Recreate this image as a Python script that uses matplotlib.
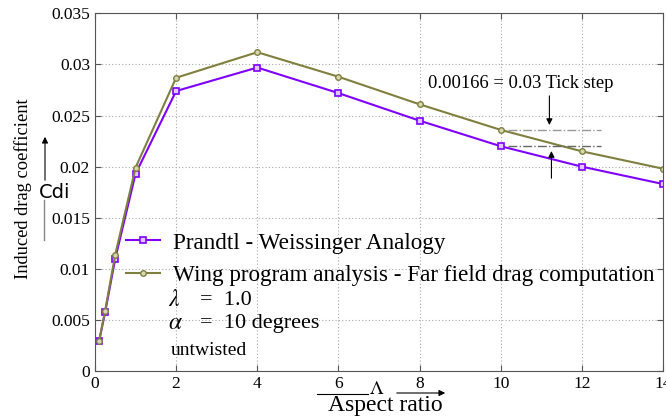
import numpy as np
import matplotlib.pyplot as plt

# Aspect ratio values
aspect = [0.1, 0.25, 0.5, 1.0, 2.0, 4.0, 6.0, 8.0, 10.0, 12.0, 14.0]

# Induced drag coefficient, Prandtl - Weissinger
cdi_pw = [0.0029, 0.00575, 0.0110, 0.0193, 0.0274, 0.0297, 0.0272, 0.0245, 0.0220, 0.0200, 0.0183]
# Induced drag coefficient, wing program (far field)
cdi_wp = [0.0029, 0.0059, 0.0114, 0.0199, 0.0287, 0.0312, 0.0288, 0.0261, 0.0236, 0.0215, 0.0198]

xticks = [0, 2, 4, 6, 8, 10, 12, 14]
yticks = [0, 0.005, 0.01, 0.015, 0.02, 0.025, 0.03, 0.035]
ytick_labels = ["0", "0.005", "0.01", "0.015", "0.02", "0.025", "0.03", "0.035"]

serif = "Liberation Serif"
purple = "#7f00ff"
olive = "#7f7f3f"
plt.rcParams["mathtext.fontset"] = "stix"

fig = plt.figure(figsize=(6.66, 4.17), dpi=100)
ax = fig.add_axes([0.1426, 0.1103, 0.8529, 0.8576])

ax.plot(aspect, cdi_pw, color=purple, lw=1.5, marker="s", ms=4.5,
        mfc="#e0c8ff", mec=purple, mew=1.2, label="Prandtl - Weissinger Analogy")
ax.plot(aspect, cdi_wp, color=olive, lw=1.5, marker="o", ms=4,
        mfc="#d8d8b0", mec=olive, mew=1.0,
        label="Wing program analysis - Far field drag computation")

ax.set_xlim(0, 14)
ax.set_ylim(0, 0.035)
ax.set_xticks(xticks)
ax.set_yticks(yticks)
ax.set_yticklabels(ytick_labels)
ax.tick_params(direction="in", top=True, right=True, length=4, color="#555555",
               labelsize=12.5)
for lab in ax.get_xticklabels() + ax.get_yticklabels():
    lab.set_fontfamily(serif)
ax.grid(True, linestyle=(0, (1, 2)), color="#aaaaaa", lw=0.8)
for s in ax.spines.values():
    s.set_color("#555555")

leg = ax.legend(loc="center left", bbox_to_anchor=(0.055, 0.313), frameon=False,
                prop={"family": serif, "size": 16.7}, handlelength=1.47,
                handletextpad=0.56, labelspacing=0.48, borderaxespad=0,
                borderpad=0)

# parameters text
ax.text(0.128, 0.197, r"$\lambda$", transform=ax.transAxes,
        family=serif, fontsize=17, va="center")
ax.text(0.185, 0.197, "=  1.0", transform=ax.transAxes,
        family=serif, fontsize=16, va="center")
ax.text(0.128, 0.134, r"$\alpha$", transform=ax.transAxes,
        family=serif, fontsize=17, va="center")
ax.text(0.185, 0.134, "=  10 degrees", transform=ax.transAxes,
        family=serif, fontsize=16, va="center")
ax.text(0.133, 0.058, "untwisted", transform=ax.transAxes,
        family=serif, fontsize=14, va="center")

# tick step annotation
ax.text(8.2, 0.0281, "0.00166 = 0.03 Tick step", family=serif, fontsize=13.4,
        va="center")
ax.plot([10.17, 12.47], [cdi_wp[8], cdi_wp[8]], color="#999999", lw=1, ls="-.")
ax.plot([10.17, 12.47], [cdi_pw[8], cdi_pw[8]], color="#666666", lw=1, ls="-.")
ax.annotate("", xy=(11.2, cdi_wp[8] + 0.0002), xytext=(11.2, 0.0272),
            arrowprops=dict(arrowstyle="-|>", color="black", lw=0.8,
                            mutation_scale=9))
ax.annotate("", xy=(11.25, cdi_pw[8] - 0.0002), xytext=(11.25, 0.0186),
            arrowprops=dict(arrowstyle="-|>", color="black", lw=0.8,
                            mutation_scale=9))

# y label with Cdi arrow
fig.text(23 / 666, 1 - 189 / 417, "Induced drag coefficient", rotation=90,
         family=serif, fontsize=13.3, ha="center", va="center")
fig.text(55 / 666, 1 - 192 / 417, "Cdi", family="DejaVu Sans", fontsize=14,
         ha="center", va="center")
fig.add_artist(plt.Line2D([44 / 666, 44 / 666], [1 - 200 / 417, 1 - 240 / 417],
                          color="#888888", lw=1))
ax.annotate("", xy=(45 / 666, 1 - 134 / 417), xytext=(45 / 666, 1 - 183 / 417),
            xycoords="figure fraction", textcoords="figure fraction",
            arrowprops=dict(arrowstyle="-|>", color="black", lw=0.8,
                            mutation_scale=9))

# x label with Lambda arrow
fig.text(385 / 666, 1 - 406 / 417, "Aspect ratio", family=serif, fontsize=17,
         ha="center", va="center")
fig.text(377 / 666, 1 - 389 / 417, r"$\Lambda$", family=serif, fontsize=14,
         ha="center", va="center")
fig.add_artist(plt.Line2D([317 / 666, 368 / 666], [1 - 394 / 417, 1 - 394 / 417],
                          color="black", lw=0.8))
ax.annotate("", xy=(448 / 666, 1 - 393 / 417), xytext=(394 / 666, 1 - 393 / 417),
            xycoords="figure fraction", textcoords="figure fraction",
            arrowprops=dict(arrowstyle="-|>", color="black", lw=0.8,
                            mutation_scale=9))

plt.savefig("out.png", dpi=100)
